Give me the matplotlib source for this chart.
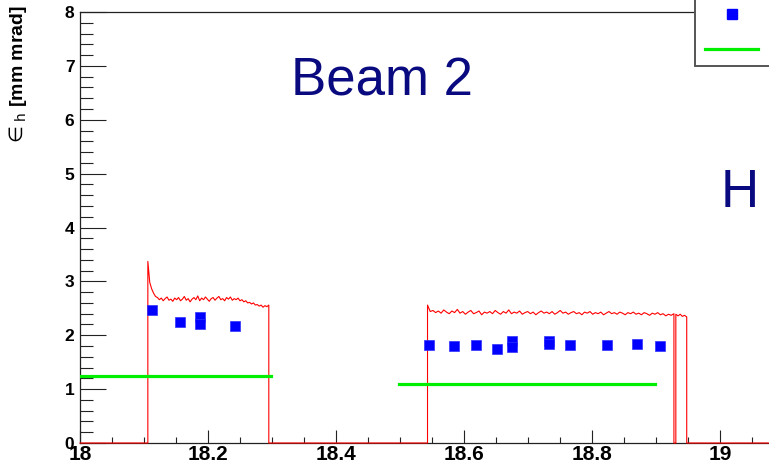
import numpy as np
import matplotlib
matplotlib.use('Agg')
import matplotlib.pyplot as plt
from matplotlib.patches import Rectangle
from matplotlib.lines import Line2D

plt.rcParams['font.family'] = ['Liberation Sans', 'DejaVu Sans']
plt.rcParams['mathtext.fontset'] = 'dejavusans'

# measured emittance points (blue squares)
meas_x = [18.112, 18.157, 18.188, 18.188, 18.242,
          18.545, 18.584, 18.618, 18.652, 18.675, 18.675,
          18.733, 18.733, 18.765, 18.823, 18.870, 18.906]
meas_y = [2.46, 2.24, 2.33, 2.21, 2.18,
          1.82, 1.80, 1.81, 1.75, 1.89, 1.79,
          1.89, 1.84, 1.82, 1.82, 1.84, 1.80]

# reference levels (green)
ref_x = [(18.0, 18.298), (18.498, 18.898)]
ref_y = [1.24, 1.09]

# monitor trace (red), three fills
fill1 = (18.106, 18.295)
trace1 = [3.37, 2.98, 2.86, 2.78, 2.72, 2.70, 2.66, 2.69, 2.64, 2.68, 2.71, 2.65,
          2.67, 2.63, 2.69, 2.66, 2.70, 2.64, 2.67, 2.72, 2.65, 2.68, 2.62, 2.67,
          2.70, 2.66, 2.73, 2.64, 2.69, 2.66, 2.71, 2.67, 2.63, 2.68, 2.70, 2.65,
          2.69, 2.72, 2.66, 2.68, 2.64, 2.70, 2.67, 2.71, 2.65, 2.68, 2.66, 2.69,
          2.64, 2.66, 2.62, 2.64, 2.60, 2.61, 2.58, 2.60, 2.56, 2.57, 2.54, 2.56,
          2.52, 2.55, 2.53, 2.56]
fill2 = (18.543, 18.928)
trace2 = [2.56, 2.44, 2.46, 2.42, 2.45, 2.41, 2.47, 2.43, 2.40, 2.45, 2.42, 2.48,
          2.41, 2.44, 2.39, 2.43, 2.46, 2.40, 2.42, 2.45, 2.38, 2.43, 2.41, 2.44,
          2.40, 2.46, 2.42, 2.39, 2.44, 2.41, 2.47, 2.40, 2.43, 2.41, 2.45, 2.39,
          2.42, 2.44, 2.40, 2.43, 2.38, 2.42, 2.45, 2.41, 2.43, 2.40, 2.44, 2.39,
          2.42, 2.46, 2.41, 2.43, 2.39, 2.42, 2.44, 2.40, 2.42, 2.38, 2.43, 2.41,
          2.44, 2.39, 2.42, 2.40, 2.43, 2.38, 2.41, 2.44, 2.40, 2.42, 2.39, 2.43,
          2.41, 2.38, 2.42, 2.40, 2.43, 2.39, 2.41, 2.38, 2.42, 2.40, 2.37, 2.41,
          2.39, 2.42, 2.38, 2.40, 2.36, 2.39, 2.37, 2.40]
fill3 = (18.931, 18.948)
trace3 = [2.39, 2.36, 2.39, 2.35, 2.37, 2.34]

xs, ys = [18.0], [0.0]
for (a, b), vals in [(fill1, trace1), (fill2, trace2), (fill3, trace3)]:
    xs += [a] + list(np.linspace(a, b, len(vals))) + [b]
    ys += [0.0] + vals + [0.0]
xs.append(19.2)
ys.append(0.0)

W, H = 769, 476
fig = plt.figure(figsize=(W / 100, H / 100), dpi=100)
ax = fig.add_axes([80 / W, 33 / H, 704 / W, 431 / H])

ax.plot(xs, ys, color='#ff0000', lw=0.8, zorder=3, clip_on=False)
for (a, b), yv in zip(ref_x, ref_y):
    ax.plot([a, b], [yv, yv], color='#00ee00', lw=2.3, zorder=4)
ax.plot(meas_x, meas_y, 's', color='#0000ff', ms=7, mec='#3030ff', mew=0.5, zorder=5)

ax.set_xlim(18, 19.1)
ax.set_ylim(0, 8)
ax.set_xticks(np.arange(18, 19.01, 0.2))
ax.set_xticklabels(['18', '18.2', '18.4', '18.6', '18.8', '19'])
ax.set_xticks(np.arange(18, 19.1, 0.05), minor=True)
ax.set_yticks(range(0, 9))
ax.set_yticks(np.arange(0, 8.01, 0.2), minor=True)

ax.tick_params(axis='both', which='both', direction='in', color='#222222', width=0.8)
ax.tick_params(axis='x', which='major', length=9.4, pad=1.5, labelsize=15)
ax.tick_params(axis='x', which='minor', length=4.5)
ax.tick_params(axis='y', which='major', length=18.7, pad=4, labelsize=12.5)
ax.tick_params(axis='y', which='minor', length=9.4)
for lab in ax.get_xticklabels() + ax.get_yticklabels():
    lab.set_fontweight('bold')
ax.spines['right'].set_visible(False)
for s in ['left', 'top', 'bottom']:
    ax.spines[s].set_linewidth(0.9)
    ax.spines[s].set_color('#222222')

fig.text(18 / W, 1 - 5 / H, r'$\in_{\rm h}$ [mm mrad]', rotation=90, ha='center', va='top',
         fontsize=14, fontweight='bold')
fig.text(382 / W, 1 - 82 / H, 'Beam 2', ha='center', va='center', fontsize=38, color='#0a0a80')
fig.text(740 / W, 1 - 193 / H, 'H', ha='center', va='center', fontsize=38, color='#0a0a80')

# legend box (cut off at top right)
fig.add_artist(Rectangle((695 / W, 1 - 66 / H), 0.2, 0.2, transform=fig.transFigure,
                         facecolor='white', edgecolor='#555555', lw=1.4, zorder=10))
fig.add_artist(Line2D([732 / W], [1 - 14 / H], marker='s', color='#0000ff', ms=7,
                      transform=fig.transFigure, zorder=11))
fig.add_artist(Line2D([705 / W, 758 / W], [1 - 49 / H] * 2, color='#00ee00', lw=2.3,
                      transform=fig.transFigure, zorder=11))

fig.savefig('out.png', dpi=100)
